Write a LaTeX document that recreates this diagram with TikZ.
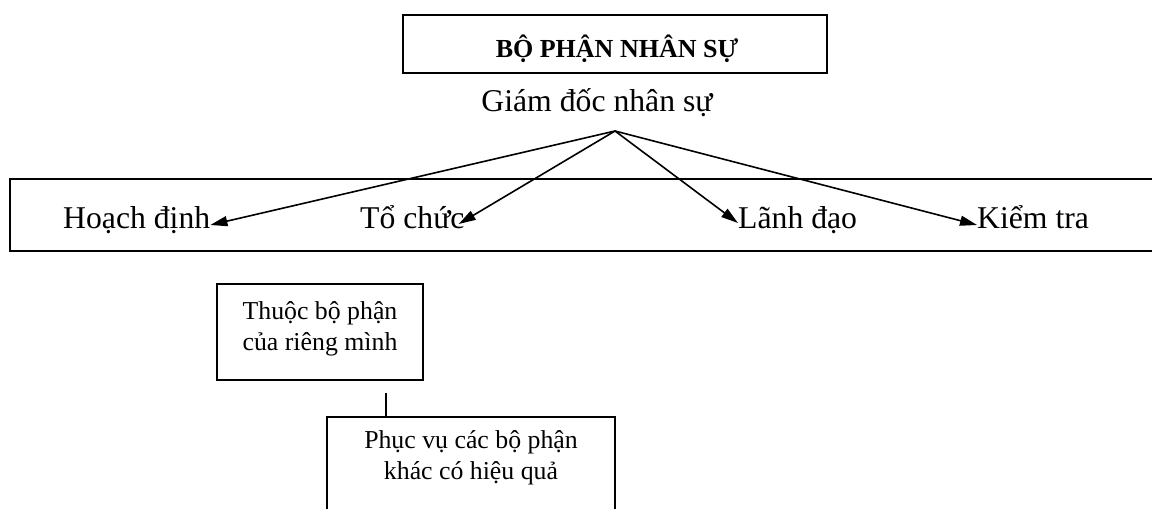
\documentclass[tikz,border=0pt]{standalone}
\usepackage{fontspec}
\setmainfont{Liberation Serif}
\usetikzlibrary{arrows.meta,calc}
\begin{document}
\begin{tikzpicture}[x=1pt,y=-1pt,
  bigtext/.style={inner sep=0pt,anchor=base west,font=\fontsize{31.7}{38}\selectfont},
  smalltext/.style={inner sep=0pt,align=center,font=\fontsize{25.8}{31}\selectfont},
  boxline/.style={line width=2pt},
  branch/.style={line width=1.6pt,-{Triangle[length=17pt,width=10pt]}}]
\useasboundingbox (0,0) rectangle (1152,509);
\clip (0,0) rectangle (1152,509);

% title box and director
\draw[boxline] (403,15) rectangle (827,73);
\node[inner sep=0pt,anchor=base,font=\fontsize{26}{31}\bfseries\selectfont] (title) at (617,57) {BỘ PHẬN NHÂN SỰ};
\node[inner sep=0pt,anchor=base,font=\fontsize{31.7}{38}\selectfont] (gd) at (597,111) {Giám đốc nhân sự};
\coordinate (apex) at (615,131);

% band of the four functions
\draw[boxline] (10,179) rectangle (1170,251);
\node[bigtext] (hd) at (63,228) {Hoạch định};
\node[bigtext] (tc) at (360,228) {Tổ chức};
\node[bigtext] (ld) at (738,228) {Lãnh đạo};
\node[bigtext] (kt) at (977,228) {Kiểm tra};

\draw[branch] (apex) -- ($(hd.base east)+(0,-3)$);
\draw[branch] (apex) -- ($(tc.base east)+(-6,-4)$);
\draw[branch] (apex) -- ($(ld.base west)+(0,-5)$);
\draw[branch] (apex) -- ($(kt.base west)+(0,-3)$);

% lower boxes (the base of a two-line node is its last line)
\node[draw,boxline,minimum width=206pt,minimum height=96pt,inner sep=0pt] (b1) at (320,332) {};
\node[smalltext,anchor=base] (b1t) at (320,350) {Thuộc bộ phận\\của riêng mình};

\node[minimum width=288pt,minimum height=110pt,inner sep=0pt] (b2) at (471,472) {};
\draw[boxline] (b2.south west) -- (b2.north west) -- (b2.north east) -- (b2.south east);
\node[smalltext,anchor=base] (b2t) at (471,479) {Phục vụ các bộ phận\\khác có hiệu quả};

\coordinate (lk) at (386,393);
\draw[line width=1.8pt] (lk) -- (lk |- b2.north);
\end{tikzpicture}
\end{document}
